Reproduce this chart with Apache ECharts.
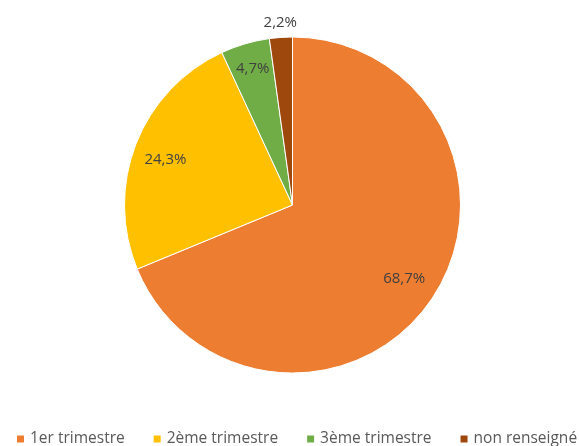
<!DOCTYPE html>
<html>
<head>
<meta charset="utf-8">
<script src="https://cdn.jsdelivr.net/npm/echarts@6/dist/echarts.min.js"></script>
<style>html,body{margin:0;padding:0;background:#fff}#c{width:579px;height:446px}</style>
</head>
<body>
<div id="c"></div>
<script>
const categories = ["1er trimestre", "2ème trimestre", "3ème trimestre", "non renseigné"];
const values = [68.7, 24.3, 4.7, 2.2];
const labels = ["68,7%", "24,3%", "4,7%", "2,2%"];

const colors = ["#ED7D31", "#FFC000", "#70AD47", "#9E480E"];
const labelRadiusFactor = [0.8, 0.92, 0.85, 1.1];
const labelNudge = [[-4, -4], [22, 13], [2, 6], [1, 9]];
const CX = 292.5, CY = 205, R = 168;

const chart = echarts.init(document.getElementById('c'), null, {renderer: 'canvas'});
chart.setOption({
  animation: false,
  color: colors,
  legend: {
    top: 431,
    left: 15,
    width: 575,
    padding: 0,
    itemWidth: 9,
    itemHeight: 9,
    itemGap: 27,
    icon: 'rect',
    textStyle: {fontFamily: 'Open Sans', fontSize: 15.5, lineHeight: 16, color: '#595959'},
    data: categories
  },
  series: [{
    type: 'pie',
    center: [CX, CY],
    radius: [0, R],
    startAngle: 90,
    clockwise: true,
    avoidLabelOverlap: false,
    itemStyle: {borderColor: '#fff', borderWidth: 1},
    label: {
      show: true,
      position: 'inside',
      fontFamily: 'Open Sans',
      fontSize: 15,
      color: '#404040',
      formatter: p => labels[p.dataIndex]
    },
    labelLine: {show: false},
    labelLayout: function (p) {
      const r = p.labelRect;
      const lx = r.x + r.width / 2, ly = r.y + r.height / 2;
      const f = labelRadiusFactor[p.dataIndex] / 0.5 - 1;
      const n = labelNudge[p.dataIndex];
      return {dx: (lx - CX) * f + n[0], dy: (ly - CY) * f + n[1]};
    },
    data: categories.map((c, i) => ({name: c, value: values[i]}))
  }]
});
</script>
</body>
</html>
